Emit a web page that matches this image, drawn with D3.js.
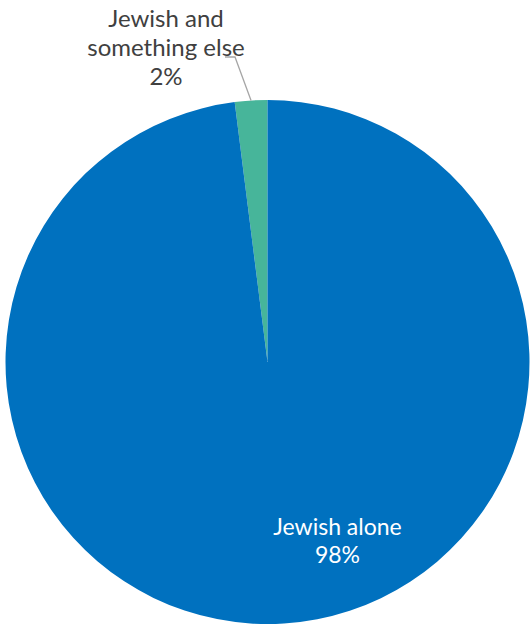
<!DOCTYPE html>
<html>
<head>
<meta charset="utf-8">
<script src="https://cdn.jsdelivr.net/npm/d3@7"></script>
<style>
  html, body { margin: 0; padding: 0; background: #fff; }
  svg { display: block; }
  text { font-family: "Lato", "Open Sans", sans-serif; }
</style>
</head>
<body>
<svg id="chart" width="532" height="625"></svg>
<script>
// Religious identity breakdown
const categories = ["Jewish and something else", "Jewish alone"];
const values = [2, 98];
const colors = ["#47b59a", "#0071bf"];

const svg = d3.select("#chart");
const cx = 267.5, cy = 362, radius = 262;

const pie = d3.pie()
  .sort(null)
  .startAngle(-2 * Math.PI * values[0] / 100)
  .endAngle(2 * Math.PI - 2 * Math.PI * values[0] / 100)
  .value(d => d);

const arcs = pie(values);
const arc = d3.arc().innerRadius(0).outerRadius(radius);

const g = svg.append("g").attr("transform", `translate(${cx},${cy})`);

g.selectAll("path.slice")
  .data(arcs)
  .join("path")
  .attr("class", "slice")
  .attr("d", arc)
  .attr("fill", (d, i) => colors[i]);

// Leader line for the small slice
const small = arcs[0];
const mid = (small.startAngle + small.endAngle) / 2;
const edge = [radius * Math.sin(mid), -radius * Math.cos(mid)];
const elbow = [235 - cx, 57 - cy];
const tail = [225 - cx, 57 - cy];
g.append("polyline")
  .attr("points", [edge, elbow, tail].map(p => p.join(",")).join(" "))
  .attr("fill", "none")
  .attr("stroke", "#a6a6a6")
  .attr("stroke-width", 1.3);

// Outside label
const outside = svg.append("text")
  .attr("text-anchor", "middle")
  .attr("fill", "#404040")
  .attr("font-size", 24);
["Jewish and", "something else", values[0] + "%"].forEach((t, i) => {
  outside.append("tspan").attr("x", 166).attr("y", 27 + i * 29).text(t);
});

// Inside label for the large slice (offset from centre toward lower right)
const lx = cx + 70, ly = cy + 173;
const inside = svg.append("text")
  .attr("text-anchor", "middle")
  .attr("fill", "#ffffff")
  .attr("font-size", 23);
[categories[1], values[1] + "%"].forEach((t, i) => {
  inside.append("tspan").attr("x", lx).attr("y", ly + i * 28).text(t);
});
</script>
</body>
</html>
